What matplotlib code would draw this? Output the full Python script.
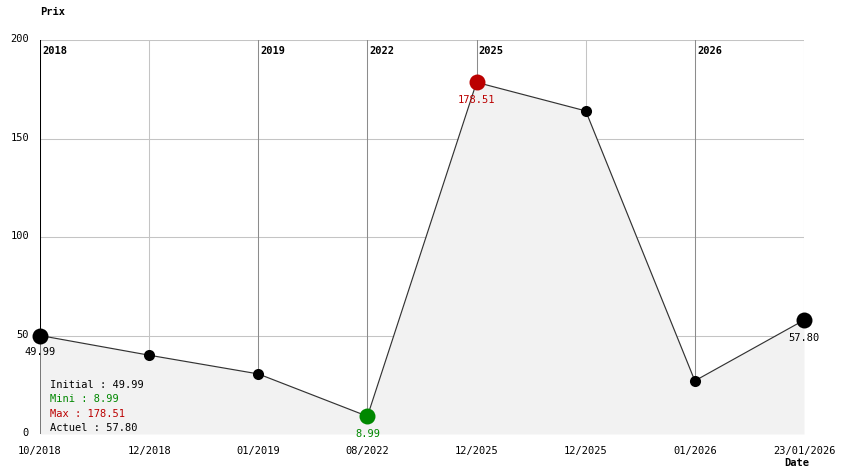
import matplotlib
matplotlib.use("Agg")
import matplotlib.pyplot as plt

dates = ["10/2018", "12/2018", "01/2019", "08/2022", "12/2025", "12/2025", "01/2026", "23/01/2026"]
prices = [49.99, 40.0, 30.5, 8.99, 178.51, 164.0, 27.0, 57.80]
year_marks = {0: "2018", 2: "2019", 3: "2022", 4: "2025", 6: "2026"}
yticks = [0, 50, 100, 150, 200]
legend_lines = [("Initial : 49.99", "black"), ("Mini : 8.99", "#008800"),
                ("Max : 178.51", "#bb0000"), ("Actuel : 57.80", "black")]

W, H = 844, 474
fig = plt.figure(figsize=(W / 100, H / 100), dpi=100)
L, R, T, B = 40, 804, 40, 434
ax = fig.add_axes([L / W, (H - B) / H, (R - L) / W, (B - T) / H])
ax.set_xlim(0, len(dates) - 1)
ax.set_ylim(0, 200)
for s in ax.spines.values():
    s.set_visible(False)
ax.set_xticks([])
ax.set_yticks([])

mono = "DejaVu Sans Mono"
fs = 7.5

x = list(range(len(dates)))
# grid
for yv in yticks[1:]:
    ax.axhline(yv, color="#c4c4c4", lw=0.75, zorder=0)
for i in x:
    if i in year_marks:
        c = "black" if i == 0 else "#8c8c8c"
    else:
        c = "#c4c4c4"
    ax.axvline(i, color=c, lw=0.75, zorder=0)
    if i in year_marks:
        ax.text(i + 0.02, 194.5, year_marks[i], fontsize=fs, family=mono,
                fontweight="bold", ha="left", va="center", zorder=5)

ax.fill_between(x, prices, 0, color="#f2f2f2", zorder=1, lw=0)
ax.plot(x, prices, color="#333333", lw=0.85, zorder=2)

imin = prices.index(min(prices))
imax = prices.index(max(prices))
for i, p in enumerate(prices):
    if i == imin:
        ax.plot(i, p, "o", ms=11.5, color="#008800", zorder=3, mec="none", clip_on=False)
    elif i == imax:
        ax.plot(i, p, "o", ms=11.5, color="#bb0000", zorder=3, mec="none", clip_on=False)
    elif i == 0 or i == len(prices) - 1:
        ax.plot(i, p, "o", ms=11.5, color="black", zorder=3, mec="none", clip_on=False)
    else:
        ax.plot(i, p, "o", ms=8, color="black", zorder=3, mec="none", clip_on=False)

ax.text(0, 41.5, f"{prices[0]:.2f}", fontsize=fs, family=mono, ha="center", va="center", zorder=5)
ax.text(imin, 0, f"{prices[imin]:.2f}", fontsize=fs, family=mono, ha="center", va="center",
        color="#008800", zorder=5, clip_on=False)
ax.text(imax, 169.5, f"{prices[imax]:.2f}", fontsize=fs, family=mono, ha="center", va="center",
        color="#bb0000", zorder=5)
ax.text(len(prices) - 1, 48.5, f"{prices[-1]:.2f}", fontsize=fs, family=mono, ha="center",
        va="center", zorder=5, clip_on=False)

for yv in yticks:
    ax.text(-0.1, yv + 0.5, str(yv), fontsize=fs, family=mono, ha="right", va="center",
            transform=ax.transData, clip_on=False)
for i, d in enumerate(dates):
    ax.text(i, -8.5, d, fontsize=fs, family=mono, ha="center", va="center", clip_on=False)

for k, (t, c) in enumerate(legend_lines):
    ax.text(0.013, (434 - 385 - k * 14.3) / 394, t, transform=ax.transAxes, fontsize=fs,
            family=mono, color=c, ha="left", va="center", zorder=5)

fig.text(40 / W, 1 - 12 / H, "Prix", fontsize=fs, family=mono, fontweight="bold",
         ha="left", va="center")
fig.text(797 / W, 1 - 463 / H, "Date", fontsize=fs, family=mono, fontweight="bold",
         ha="center", va="center")

fig.savefig("out.png", dpi=100)
